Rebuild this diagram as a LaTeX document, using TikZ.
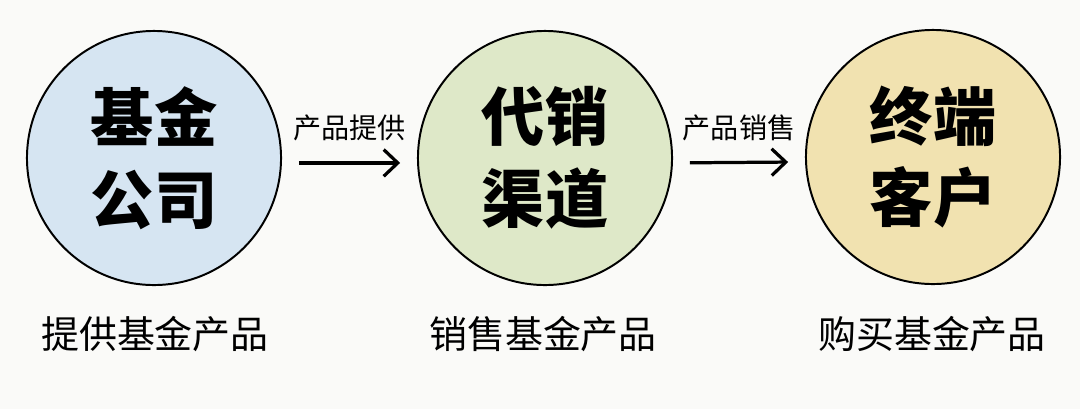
\documentclass[tikz,border=0pt]{standalone}
\usepackage{fontspec}
\setmainfont{Noto Sans CJK SC}
\usetikzlibrary{arrows.meta}
\definecolor{fundblue}{HTML}{D6E5F2}
\definecolor{agentgreen}{HTML}{DEE8C8}
\definecolor{clientyellow}{HTML}{F1E2B0}
\definecolor{paper}{HTML}{FAFAF8}
\begin{document}
\begin{tikzpicture}[x=0.025cm, y=-0.025cm,
    ring/.style={circle, draw=black, line width=1.4pt, minimum size=6.35cm, inner sep=0pt,
                 align=center, font=\fontsize{45}{58}\selectfont\bfseries},
    role/.style={font=\fontsize{27}{30}\selectfont},
    flow/.style={line width=2.3pt, -{Straight Barb[length=10pt, width=19pt, line width=2.3pt]},
                 shorten <=12pt, shorten >=12pt},
    flowlabel/.style={font=\fontsize{20}{22}\selectfont, above=11pt, midway}]
    \useasboundingbox[fill=paper] (0,0) rectangle (1080,409);

    % Cerchi
    \node[ring, fill=fundblue] (fund) at (154,158) {基金\\公司};
    \node[ring, fill=agentgreen] (agent) at (545,158) {代销\\渠道};
    \node[ring, fill=clientyellow] (client) at (933,157) {终端\\客户};

    % Descrizioni
    \node[role] (fundrole) at (155,334) {提供基金产品};
    \node[role] (agentrole) at (543,334) {销售基金产品};
    \node[role] (clientrole) at (932,334) {购买基金产品};

    % Flussi
    \draw[flow] ([yshift=-3.5pt]fund.east) -- node[flowlabel] {产品提供} ([yshift=-3.5pt]agent.west);
    \draw[flow] ([yshift=-3.5pt]agent.east) -- node[flowlabel] {产品销售} ([yshift=-3.5pt]client.west);
\end{tikzpicture}
\end{document}
